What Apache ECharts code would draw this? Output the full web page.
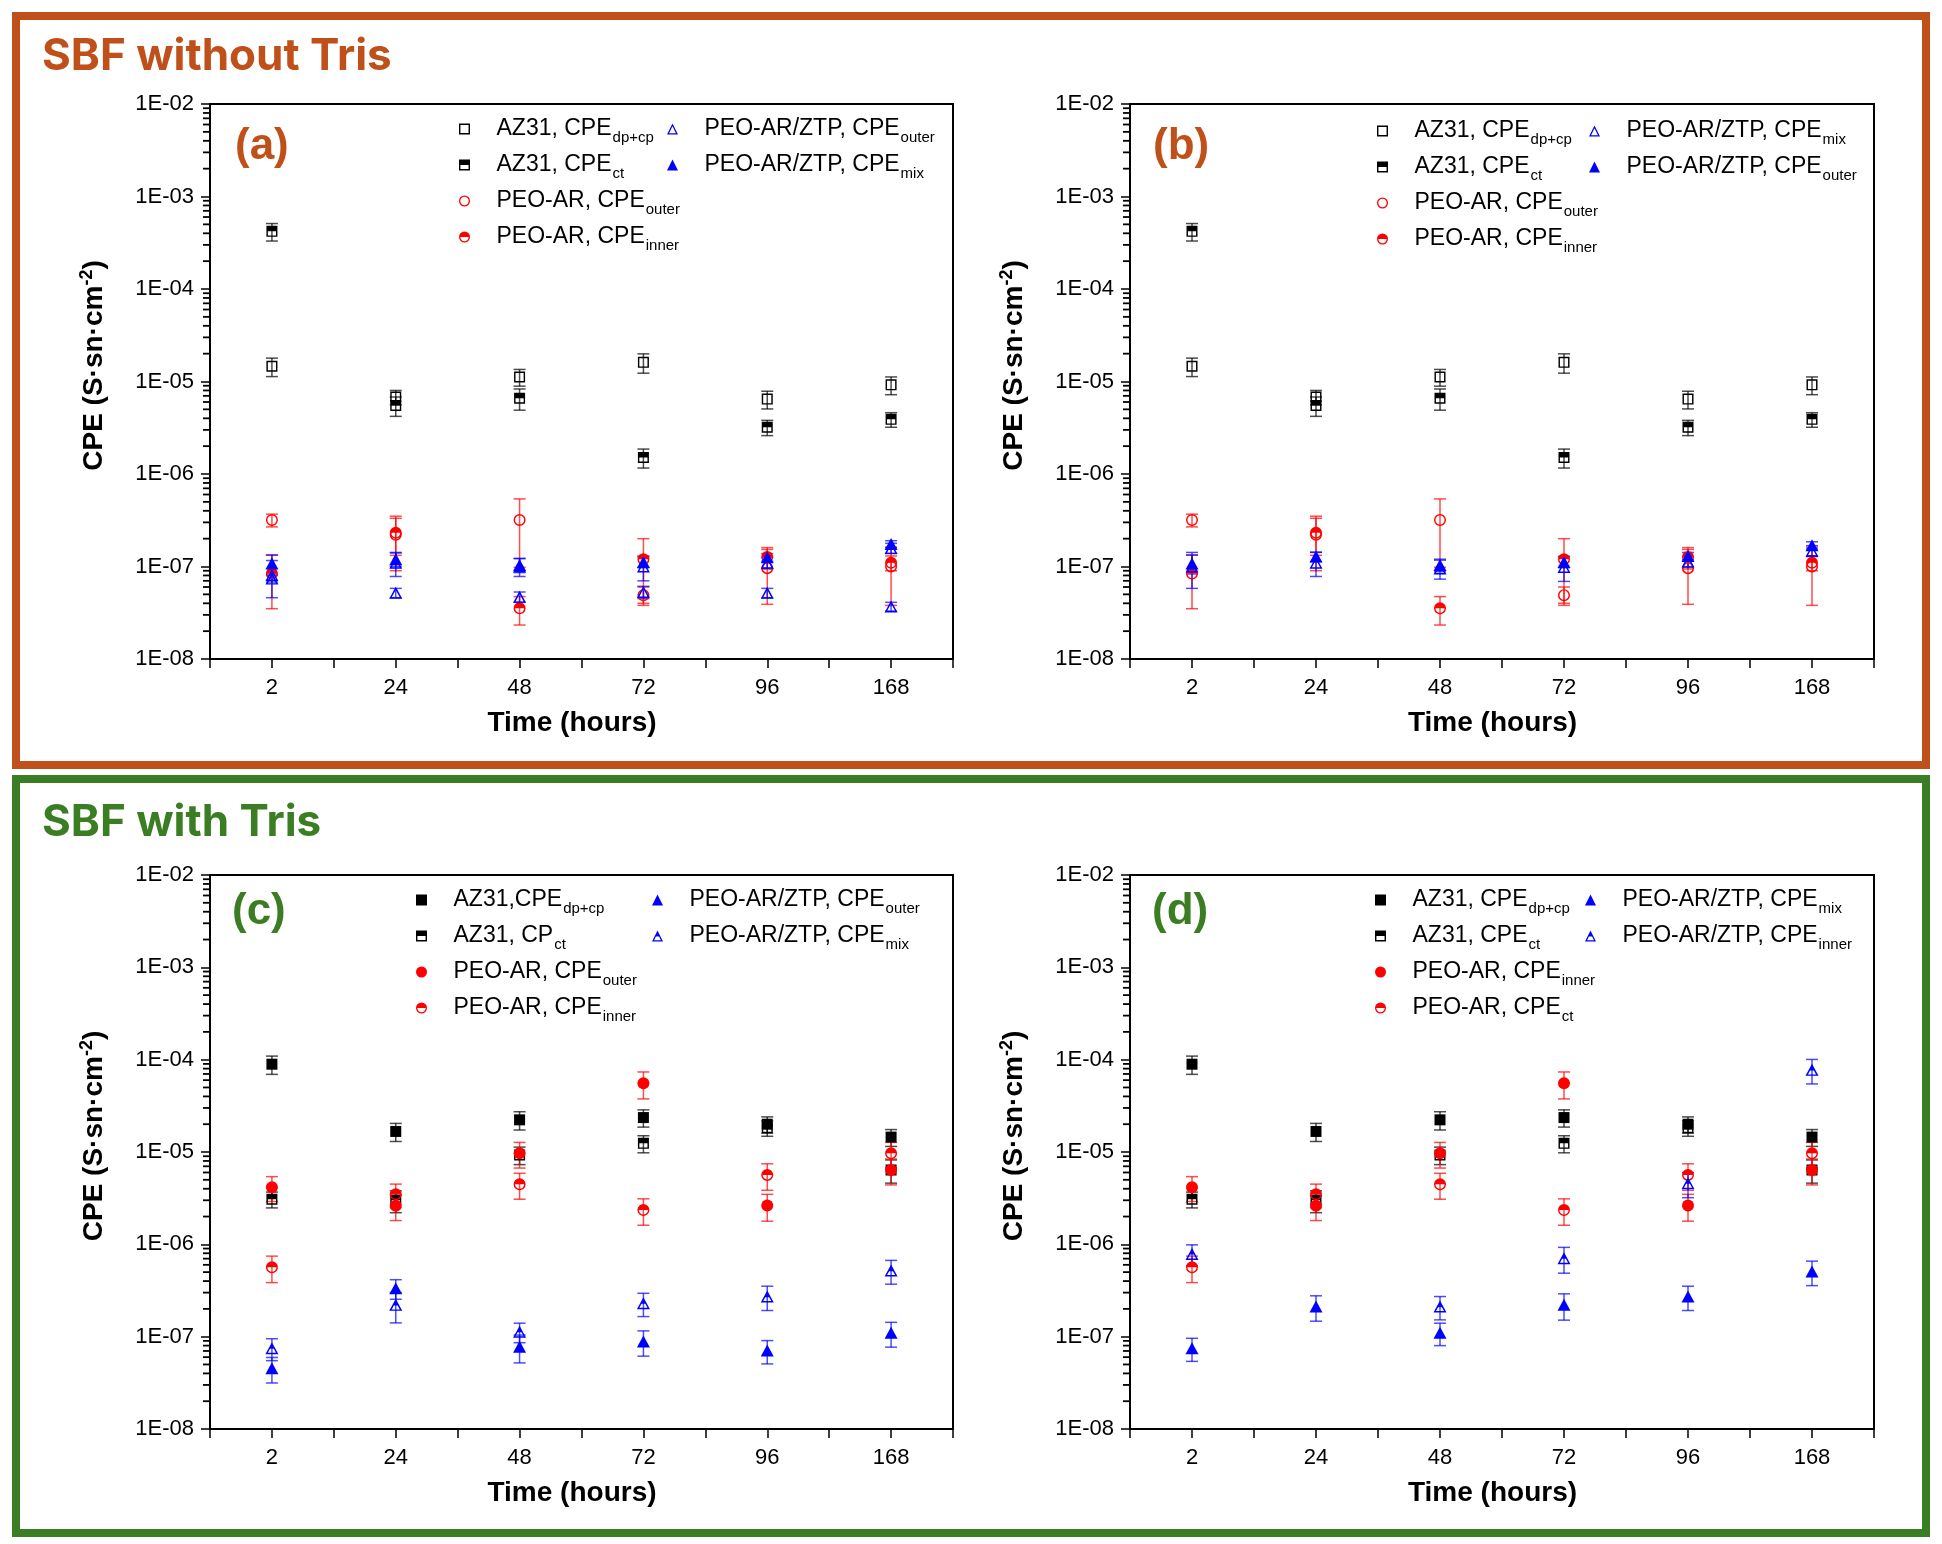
<!DOCTYPE html>
<html>
<head>
<meta charset="utf-8">
<title>CPE vs immersion time</title>
<script src="https://cdn.jsdelivr.net/npm/echarts@6/dist/echarts.min.js"></script>
<style>
    html, body { margin: 0; padding: 0; background: #fff; }
    #chart { width: 1942px; height: 1544px; }
</style>
</head>
<body>
<div id="chart"></div>
<script>
// x categories and y tick labels
const hours = ['2', '24', '48', '72', '96', '168'];
const yTickLabels = ['1E-08', '1E-07', '1E-06', '1E-05', '1E-04', '1E-03', '1E-02'];

// ---- SBF without Tris (panels a, b) ----
const az31DpNoTris = [1.46e-5, 6.8e-6, 1.12e-5, 1.61e-5, 6.45e-6, 9.2e-6];
const az31DpNoTrisErr = [3.3e-6, 1.2e-6, 2.3e-6, 3.8e-6, 1.4e-6, 2.0e-6];
const az31CtNoTris = [4.2e-4, 5.5e-6, 6.6e-6, 1.51e-6, 3.2e-6, 3.9e-6];
const az31CtNoTrisErr = [0.9e-4, 1.3e-6, 1.7e-6, 0.35e-6, 0.6e-6, 0.7e-6];
const peoOuterNoTris = [3.18e-7, 2.2e-7, 3.18e-7, 4.9e-8, 9.6e-8, 1.0e-7];
const peoOuterNoTrisErr = [0.5e-7, 1.3e-7, 2.2e-7, 1.1e-8, 5.7e-8, 6.2e-8];
const peoInnerNoTris = [8.4e-8, 2.32e-7, 3.53e-8, 1.2e-7, 1.27e-7, 1.1e-7];
const peoInnerNoTrisErr = [4.9e-8, 1.0e-7, 1.2e-8, 0.8e-7, 0.33e-7, 0.2e-7];

const aZtpOuter = [7.4e-8, 5.2e-8, 4.7e-8, 5.3e-8, 5.2e-8, 3.7e-8];
const aZtpOuterErr = [0.6e-8, 0.6e-8, 0.6e-8, 0.8e-8, 0.6e-8, 0.4e-8];
const aZtpOuterB = [8.1e-8, 1.1e-7, 1.0e-7, 1.0e-7, 1.1e-7, 1.58e-7];
const aZtpOuterBErr = [3.5e-8, 3.2e-8, 2.2e-8, 3.0e-8, 1.5e-8, 2.0e-8];
const aZtpMix = [1.08e-7, 1.2e-7, 1.04e-7, 1.12e-7, 1.26e-7, 1.75e-7];
const aZtpMixErr = [2.5e-8, 2.0e-8, 1.8e-8, 1.5e-8, 1.2e-8, 1.5e-8];

const bZtpMix = [1.0e-7, 1.1e-7, 9.5e-8, 9.9e-8, 1.13e-7, 1.48e-7];
const bZtpMixErr = [4.2e-8, 3.2e-8, 2.2e-8, 3.0e-8, 1.5e-8, 2.0e-8];
const bZtpOuter = [1.08e-7, 1.28e-7, 1.04e-7, 1.12e-7, 1.3e-7, 1.7e-7];
const bZtpOuterErr = [2.5e-8, 1.5e-8, 1.6e-8, 1.5e-8, 1.2e-8, 1.5e-8];

// ---- SBF with Tris (panels c, d) ----
const az31DpTris = [8.93e-5, 1.67e-5, 2.23e-5, 2.36e-5, 2.0e-5, 1.45e-5];
const az31DpTrisErr = [2.0e-5, 3.7e-6, 5.0e-6, 5.0e-6, 4.0e-6, 3.0e-6];
const az31CtTris = [3.08e-6, 3.0e-6, 9.3e-6, 1.24e-5, 1.83e-5, 6.4e-6];
const az31CtTrisErr = [0.6e-6, 0.8e-6, 2.0e-6, 2.6e-6, 3.5e-6, 1.8e-6];
const peoFullTris = [4.16e-6, 2.61e-6, 9.7e-6, 5.56e-5, 2.63e-6, 6.4e-6];
const peoFullTrisErr = [1.25e-6, 0.8e-6, 3.0e-6, 1.8e-5, 0.85e-6, 2.0e-6];
const peoHalfTris = [5.65e-7, 3.49e-6, 4.48e-6, 2.36e-6, 5.65e-6, 9.7e-6];
const peoHalfTrisErr = [1.8e-7, 1.0e-6, 1.4e-6, 0.75e-6, 1.8e-6, 3.0e-6];

const cZtpOuter = [4.55e-8, 3.34e-7, 7.8e-8, 8.85e-8, 7.07e-8, 1.1e-7];
const cZtpOuterErr = [1.4e-8, 0.8e-7, 2.6e-8, 2.7e-8, 2.0e-8, 3.3e-8];
const cZtpMix = [7.5e-8, 2.21e-7, 1.13e-7, 2.3e-7, 2.72e-7, 5.2e-7];
const cZtpMixErr = [2.0e-8, 0.8e-7, 2.7e-8, 0.65e-7, 0.8e-7, 1.5e-7];

const dZtpMix = [7.5e-8, 2.12e-7, 1.1e-7, 2.21e-7, 2.72e-7, 5.07e-7];
const dZtpMixErr = [2.1e-8, 0.65e-7, 3.0e-8, 0.7e-7, 0.8e-7, 1.5e-7];
const dZtpInner = [7.87e-7, null, 2.12e-7, 7.07e-7, 4.6e-6, 7.76e-5];
const dZtpInnerErr = [2.0e-7, null, 0.6e-7, 2.2e-7, 1.4e-6, 2.3e-5];

// ---- styles ----
const ORANGE = '#C0501A';
const GREEN = '#3A7D22';
const BLACK = '#000000';
const RED = '#FF0000';
const BLUE = '#0000FF';
const FONT = '"Liberation Sans", Arial, sans-serif';

// marker shapes (holes give open / half-filled look)
const SQ_FULL = 'path://M0,0H10V10H0Z';
const SQ_OPEN = 'path://M0,0H10V10H0Z M1.3,1.3V8.7H8.7V1.3Z';
const SQ_HALF = 'path://M0,0H10V10H0Z M1.3,5V8.7H8.7V5Z';
const CI_FULL = 'circle';
const CI_OPEN = 'path://M5,0A5,5,0,1,1,5,10A5,5,0,1,1,5,0Z M5,1.2A3.8,3.8,0,1,0,5,8.8A3.8,3.8,0,1,0,5,1.2Z';
const CI_HALF = 'path://M5,0A5,5,0,1,1,5,10A5,5,0,1,1,5,0Z M1.2,5A3.8,3.8,0,0,0,8.8,5Z';
const TR_FULL = 'path://M5,0L10,10H0Z';
const TR_OPEN = 'path://M5,0L10,10H0Z M5,2.6L1.9,8.8H8.1Z';
const TR_HALF = 'path://M5,0L10,10H0Z M3.55,5.5L1.9,8.8H8.1L6.45,5.5Z';

const grids = [
    {left: 210, top: 104, width: 743, height: 555},
    {left: 1130, top: 104, width: 744, height: 555},
    {left: 210, top: 875, width: 743, height: 554},
    {left: 1130, top: 875, width: 744, height: 554}
];

const panels = [
    {
        tag: 'a',
        items: [
            ['AZ31, CPE|dp+cp', az31DpNoTris, az31DpNoTrisErr, SQ_OPEN, BLACK],
            ['AZ31, CPE|ct', az31CtNoTris, az31CtNoTrisErr, SQ_HALF, BLACK],
            ['PEO-AR, CPE|outer', peoOuterNoTris, peoOuterNoTrisErr, CI_OPEN, RED],
            ['PEO-AR, CPE|inner', peoInnerNoTris, peoInnerNoTrisErr, CI_HALF, RED],
            ['PEO-AR/ZTP, CPE|outer', aZtpOuter, aZtpOuterErr, TR_OPEN, BLUE],
            ['PEO-AR/ZTP, CPE|outer', aZtpOuterB, aZtpOuterBErr, TR_OPEN, BLUE],
            ['PEO-AR/ZTP, CPE|mix', aZtpMix, aZtpMixErr, TR_FULL, BLUE]
        ],
        legendCols: [[459, 113], [667, 113]]
    },
    {
        tag: 'b',
        items: [
            ['AZ31, CPE|dp+cp', az31DpNoTris, az31DpNoTrisErr, SQ_OPEN, BLACK],
            ['AZ31, CPE|ct', az31CtNoTris, az31CtNoTrisErr, SQ_HALF, BLACK],
            ['PEO-AR, CPE|outer', peoOuterNoTris, peoOuterNoTrisErr, CI_OPEN, RED],
            ['PEO-AR, CPE|inner', peoInnerNoTris, peoInnerNoTrisErr, CI_HALF, RED],
            ['PEO-AR/ZTP, CPE|mix', bZtpMix, bZtpMixErr, TR_OPEN, BLUE],
            ['PEO-AR/ZTP, CPE|outer', bZtpOuter, bZtpOuterErr, TR_FULL, BLUE]
        ],
        legendCols: [[1377, 115], [1589, 115]]
    },
    {
        tag: 'c',
        items: [
            ['AZ31,CPE|dp+cp', az31DpTris, az31DpTrisErr, SQ_FULL, BLACK],
            ['AZ31, CP|ct', az31CtTris, az31CtTrisErr, SQ_HALF, BLACK],
            ['PEO-AR, CPE|outer', peoFullTris, peoFullTrisErr, CI_FULL, RED],
            ['PEO-AR, CPE|inner', peoHalfTris, peoHalfTrisErr, CI_HALF, RED],
            ['PEO-AR/ZTP, CPE|outer', cZtpOuter, cZtpOuterErr, TR_FULL, BLUE],
            ['PEO-AR/ZTP, CPE|mix', cZtpMix, cZtpMixErr, TR_HALF, BLUE]
        ],
        legendCols: [[416, 884], [652, 884]]
    },
    {
        tag: 'd',
        items: [
            ['AZ31, CPE|dp+cp', az31DpTris, az31DpTrisErr, SQ_FULL, BLACK],
            ['AZ31, CPE|ct', az31CtTris, az31CtTrisErr, SQ_HALF, BLACK],
            ['PEO-AR, CPE|inner', peoFullTris, peoFullTrisErr, CI_FULL, RED],
            ['PEO-AR, CPE|ct', peoHalfTris, peoHalfTrisErr, CI_HALF, RED],
            ['PEO-AR/ZTP, CPE|mix', dZtpMix, dZtpMixErr, TR_FULL, BLUE],
            ['PEO-AR/ZTP, CPE|inner', dZtpInner, dZtpInnerErr, TR_HALF, BLUE]
        ],
        legendCols: [[1375, 884], [1585, 884]]
    }
];

// log minor tick positions (2..9 in every decade) - axis decoration only
const minorTickValues = [];
for (let e = -8; e < -2; e++) {
    for (let k = 2; k <= 9; k++) minorTickValues.push(Number((k * Math.pow(10, e)).toPrecision(3)));
}

function symbolSizeOf(sym) {
    if (sym.indexOf('L10,10') > 0) return [13, 12];
    if (sym === CI_FULL || sym.indexOf('A5') > 0) return 12;
    return 11;
}

function errorSeries(gi, values, errs, color) {
    let data = [];
    values.forEach((v, i) => {
        if (v != null) data.push([i, v, errs[i]]);
    });
    return {
        type: 'custom',
        xAxisIndex: gi,
        yAxisIndex: gi,
        silent: true,
        clip: true,
        z: 1,
        data: data,
        encode: {x: 0, y: 1},
        renderItem(params, api) {
            let x = api.value(0), v = api.value(1), e = api.value(2);
            let hi = api.coord([x, v + e]);
            let lo = v - e > 0 ? api.coord([x, v - e]) : null;
            let yBottom = lo ? lo[1] : params.coordSys.y + params.coordSys.height;
            let style = {stroke: color, lineWidth: 1.5, opacity: 0.7};
            let cap = 6;
            let children = [
                {type: 'line', shape: {x1: hi[0], y1: hi[1], x2: hi[0], y2: yBottom}, style: style},
                {type: 'line', shape: {x1: hi[0] - cap, y1: hi[1], x2: hi[0] + cap, y2: hi[1]}, style: style}
            ];
            if (lo) {
                children.push({type: 'line', shape: {x1: lo[0] - cap, y1: lo[1], x2: lo[0] + cap, y2: lo[1]}, style: style});
            }
            return {type: 'group', children: children};
        }
    };
}

function legendFormatter(name) {
    let label = name.split(':')[1];
    let parts = label.split('|');
    return '{m|' + parts[0] + '}{s|' + parts[1] + '}';
}

const baseGraphic = [
    {type: 'rect', shape: {x: 16, y: 16, width: 1910, height: 749}, style: {fill: 'none', stroke: ORANGE, lineWidth: 8}},
    {type: 'rect', shape: {x: 16, y: 779, width: 1910, height: 754}, style: {fill: 'none', stroke: GREEN, lineWidth: 8}},
    {type: 'text', x: 42, y: 57, style: {text: 'SBF without Tris', fill: ORANGE, fontSize: 44, fontWeight: 'bold', fontFamily: 'Inter, "Liberation Sans", sans-serif', verticalAlign: 'middle'}},
    {type: 'text', x: 42, y: 823, style: {text: 'SBF with Tris', fill: GREEN, fontSize: 44, fontWeight: 'bold', fontFamily: 'Inter, "Liberation Sans", sans-serif', verticalAlign: 'middle'}},
    {type: 'text', x: 235, y: 147, style: {text: '(a)', fill: ORANGE, fontSize: 44, fontWeight: 'bold', fontFamily: FONT, verticalAlign: 'middle'}},
    {type: 'text', x: 1153, y: 147, style: {text: '(b)', fill: ORANGE, fontSize: 44, fontWeight: 'bold', fontFamily: FONT, verticalAlign: 'middle'}},
    {type: 'text', x: 232, y: 912, style: {text: '(c)', fill: GREEN, fontSize: 44, fontWeight: 'bold', fontFamily: FONT, verticalAlign: 'middle'}},
    {type: 'text', x: 1152, y: 912, style: {text: '(d)', fill: GREEN, fontSize: 44, fontWeight: 'bold', fontFamily: FONT, verticalAlign: 'middle'}}
];

let option = {
    backgroundColor: '#fff',
    animation: false,
    grid: [],
    xAxis: [],
    yAxis: [],
    legend: [],
    series: [],
    graphic: baseGraphic
};

panels.forEach((p, gi) => {
    let g = grids[gi];
    option.grid.push({
        left: g.left, top: g.top, width: g.width, height: g.height,
        show: true, borderColor: '#000', borderWidth: 2, backgroundColor: '#fff',
        outerBoundsMode: 'none'
    });
    option.xAxis.push({
        gridIndex: gi,
        type: 'value',
        min: -0.5,
        max: 5.5,
        interval: 0.5,
        axisLine: {show: true, onZero: false, lineStyle: {color: '#000', width: 2}},
        axisTick: {show: true, length: 9, lineStyle: {color: '#000', width: 1.5}},
        splitLine: {show: false},
        axisLabel: {
            color: '#000', fontSize: 22, fontFamily: FONT, margin: 18,
            formatter: (v) => Number.isInteger(v) ? hours[v] : ''
        },
        name: 'Time (hours)',
        nameLocation: 'middle',
        nameGap: 50,
        nameTextStyle: {color: '#000', fontSize: 28, fontWeight: 'bold', fontFamily: FONT, padding: [0, 19, 0, 0]}
    });
    option.yAxis.push({
        gridIndex: gi,
        type: 'log',
        logBase: 10,
        min: 1e-8,
        max: 1e-2,
        splitNumber: 6,
        position: 'left',
        axisLine: {show: true, onZero: false, lineStyle: {color: '#000', width: 2}},
        axisTick: {show: true, length: 9, lineStyle: {color: '#000', width: 1.5}},
        splitLine: {show: false},
        axisLabel: {
            color: '#000', fontSize: 22, fontFamily: FONT, margin: 16,
            formatter: (v) => yTickLabels[Math.round(Math.log10(v)) + 8]
        },
        name: '{b|CPE (S·sn·cm}{p|-2}{b|)}',
        nameLocation: 'middle',
        nameGap: 100,
        nameTextStyle: {
            padding: [0, 0, 0, 32],
            rich: {
                b: {color: '#000', fontSize: 28, fontWeight: 'bold', fontFamily: FONT},
                p: {color: '#000', fontSize: 18, fontWeight: 'bold', fontFamily: FONT, padding: [0, 0, 14, 0]}
            }
        }
    });

    let names = [];
    p.items.forEach((it) => {
        let name = p.tag + ':' + it[0];
        option.series.push(errorSeries(gi, it[1], it[2], it[4]));
        if (names.indexOf(name) < 0) names.push(name);
    });
    p.items.forEach((it) => {
        let name = p.tag + ':' + it[0];
        let data = [];
        it[1].forEach((v, i) => {
            if (v != null) data.push([i, v]);
        });
        option.series.push({
            type: 'scatter',
            name: name,
            xAxisIndex: gi,
            yAxisIndex: gi,
            symbol: it[3],
            symbolSize: symbolSizeOf(it[3]),
            itemStyle: {color: it[4], opacity: 1},
            z: 3,
            data: data
        });
    });

    [names.slice(0, 4), names.slice(4)].forEach((col, ci) => {
        option.legend.push({
            data: col,
            orient: 'vertical',
            left: p.legendCols[ci][0],
            top: p.legendCols[ci][1],
            padding: 0,
            itemWidth: 54,
            itemHeight: 11,
            itemGap: 4,
            selectedMode: false,
            formatter: legendFormatter,
            textStyle: {
                color: '#000',
                rich: {
                    m: {color: '#000', fontSize: 23, fontFamily: FONT, lineHeight: 26},
                    s: {color: '#000', fontSize: 15, fontFamily: FONT, lineHeight: 15, padding: [17, 0, 0, 1]}
                }
            }
        });
    });
});

let chart = echarts.init(document.getElementById('chart'), null, {renderer: 'canvas'});
chart.setOption(option);

// minor ticks of the log axes, placed through each grid's own scales
let minorTicks = [];
grids.forEach((g, gi) => {
    minorTickValues.forEach((v) => {
        let pt = chart.convertToPixel({gridIndex: gi}, [-0.5, v]);
        if (!pt || isNaN(pt[1])) return;
        minorTicks.push({
            type: 'rect',
            z: 100,
            shape: {x: pt[0] - 7, y: pt[1] - 0.9, width: 7, height: 1.8},
            style: {fill: '#000'}
        });
    });
});
chart.setOption({graphic: baseGraphic.concat(minorTicks)});
</script>
</body>
</html>
